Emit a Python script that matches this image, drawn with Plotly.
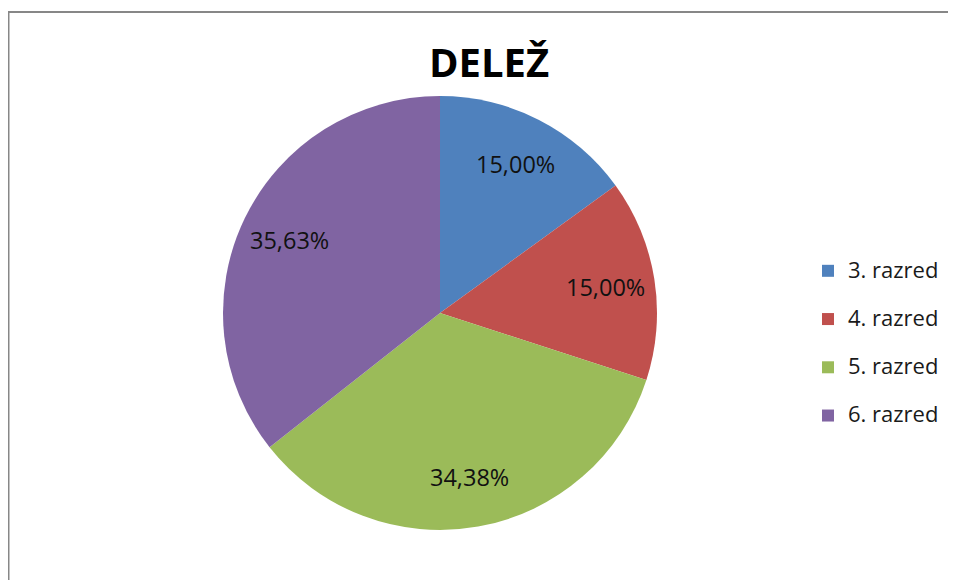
import math
from decimal import Decimal, ROUND_HALF_UP
import plotly.graph_objects as go

labels = ["3. razred", "4. razred", "5. razred", "6. razred"]
counts = [24, 24, 55, 57]
colors = ["#4F81BD", "#C0504D", "#9BBB59", "#8064A2"]
title_text = "DELEŽ"

# page body has an 8px margin, so the figure is laid out in page coords minus 8
OFF = 8
W, H = 956 - OFF, 580 - OFF
cx, cy, r = 440 - OFF, 313 - OFF, 217

legend_labels = ['<span style="font-size:22px">%s</span><br>&nbsp;' % l for l in labels]

fig = go.Figure(go.Pie(
    labels=legend_labels,
    values=counts,
    sort=False,
    direction="clockwise",
    rotation=0,
    marker=dict(colors=colors, line=dict(width=0)),
    textinfo="none",
    hoverinfo="percent",
    domain=dict(x=[(cx - r) / W, (cx + r) / W], y=[(H - cy - r) / H, (H - cy + r) / H]),
))

# percentage labels placed on each slice's bisector, derived from the values
total = sum(counts)
cum = 0
annotations = []
for v in counts:
    mid = (cum + v / 2) / total * 2 * math.pi
    cum += v
    lx = cx + 0.77 * r * math.sin(mid)
    ly = cy - 0.77 * r * math.cos(mid)
    pct_val = (Decimal(v) * 100 / Decimal(total)).quantize(Decimal("0.01"), rounding=ROUND_HALF_UP)
    pct = str(pct_val).replace(".", ",") + "%"
    annotations.append(dict(
        text=pct, x=lx / W, y=1 - ly / H, xref="paper", yref="paper",
        xanchor="center", yanchor="middle", showarrow=False,
        font=dict(family="Open Sans", size=23.5, color="#111111"),
    ))

fig.update_layout(
    width=W, height=H,
    margin=dict(l=0, r=0, t=0, b=0),
    paper_bgcolor="white",
    title=dict(text="<b>%s</b>" % title_text, x=(489 - OFF) / W, xanchor="center",
               y=1 - (63 - OFF) / H, yanchor="middle", yref="container",
               font=dict(family="Open Sans", size=40, color="#000000")),
    legend=dict(x=(808 - OFF) / W, xanchor="left", y=1 - (354.5 - OFF) / H, yanchor="middle",
                font=dict(family="Open Sans", size=17.4, color="#1a1a1a"),
                valign="top", bgcolor="rgba(0,0,0,0)"),
    annotations=annotations,
    shapes=[dict(type="rect", xref="paper", yref="paper",
                 x0=0.5 / W, x1=1.2, y0=-0.2,
                 y1=1 - (12 - OFF) / H,
                 line=dict(color="#878787", width=2))],
)

fig.write_html("out.html")
